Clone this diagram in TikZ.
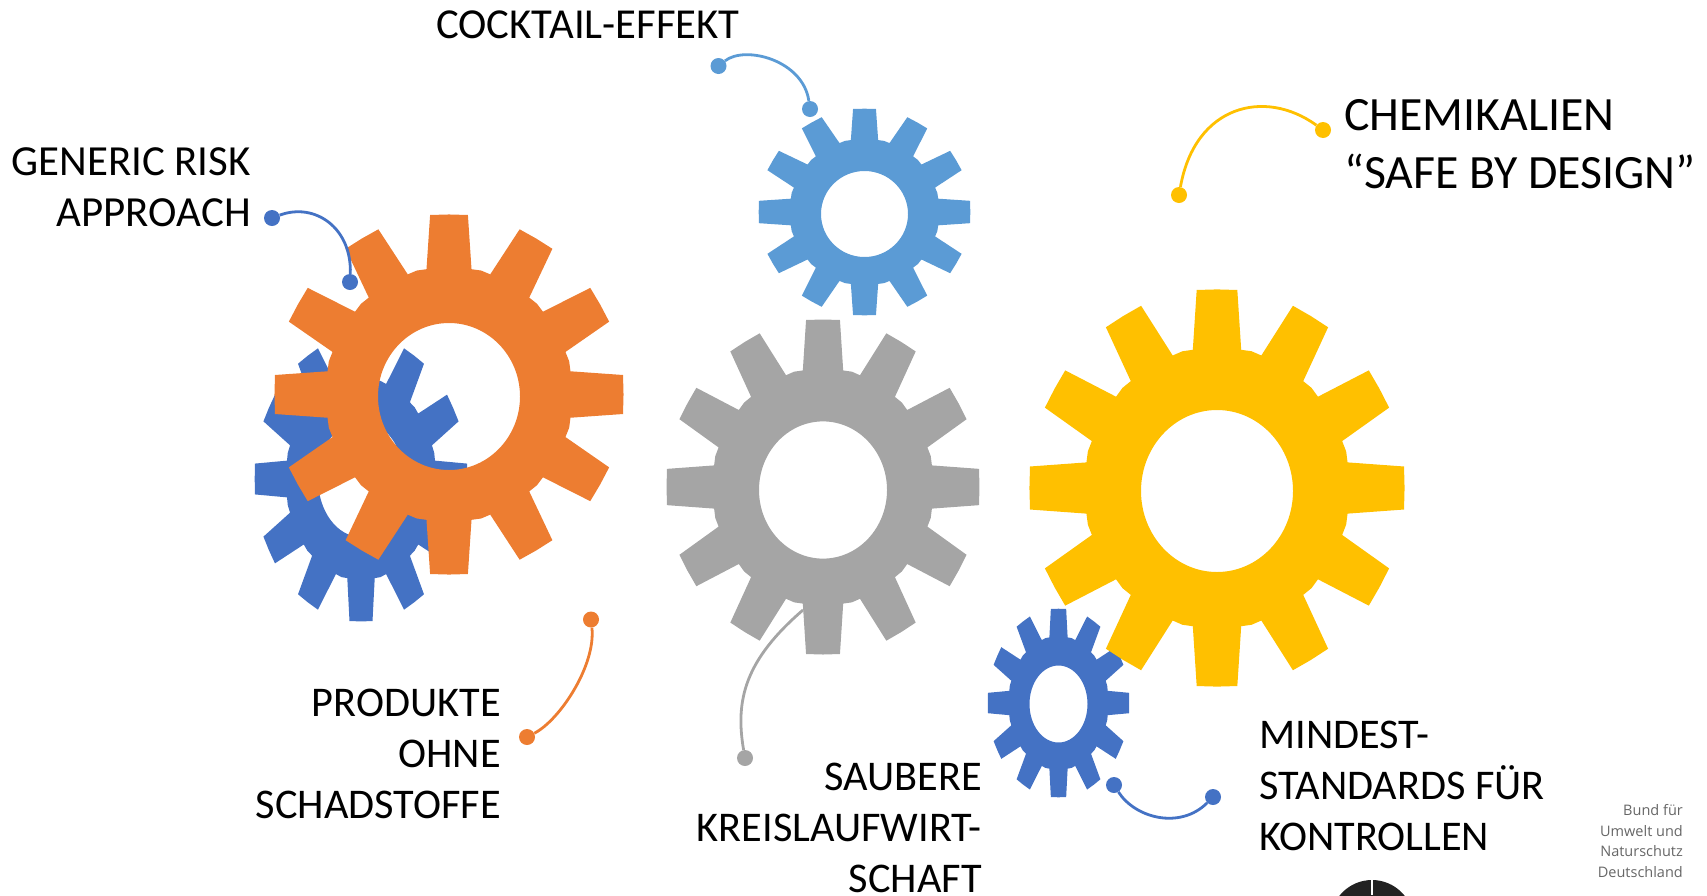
\documentclass[tikz,border=0pt]{standalone}
\usepackage{fontspec}
\setmainfont{Carlito}
\newfontfamily\bundfont{Open Sans}
\definecolor{gorange}{HTML}{ED7D31}
\definecolor{gblue}{HTML}{4472C4}
\definecolor{glight}{HTML}{5B9BD5}
\definecolor{ggray}{HTML}{A5A5A5}
\definecolor{gyellow}{HTML}{FFC000}
\definecolor{gbund}{HTML}{666666}
\definecolor{glogo}{HTML}{222222}
\tikzset{
  lab/.style={font=\fontsize{42.3}{51}\selectfont,text=black,inner sep=0pt,align=right},
  labl/.style={font=\fontsize{42.3}{51}\selectfont,text=black,inner sep=0pt,align=left},
  dotn/.style={circle,fill=#1,minimum size=16pt,inner sep=0pt},
  cable/.style={draw=#1,line width=2.8pt},
}
\newcommand{\gearfill}[8]{%
  \fill[#1,even odd rule]
    \foreach \a [count=\i from 0] in {0,30,...,330}{
      \ifnum\i=0 ({#2+0.71*#4*cos(\a-10.5)},{#3-0.71*#5*sin(\a-10.5)}) \else
      -- ({#2+0.71*#4*cos(\a-10.5)},{#3-0.71*#5*sin(\a-10.5)}) \fi
      -- ({#2+1.006*#4*cos(\a-6.2)},{#3-1.006*#5*sin(\a-6.2)})
      -- ({#2+1.003*#4*cos(\a)},{#3-1.003*#5*sin(\a)})
      -- ({#2+1.006*#4*cos(\a+6.2)},{#3-1.006*#5*sin(\a+6.2)})
      -- ({#2+0.71*#4*cos(\a+10.5)},{#3-0.71*#5*sin(\a+10.5)})
      -- ({#2+0.715*#4*cos(\a+15)},{#3-0.715*#5*sin(\a+15)})
    } -- cycle
    ({#2},{#3+#8}) ellipse [x radius=#6, y radius=#7];
}
\begin{document}
\begin{tikzpicture}[x=1pt,y=-1pt]
\useasboundingbox (0,0) rectangle (1707,895);
\clip (0,0) rectangle (1707,895);
% gears
\gearfill{gblue}{361}{479}{106}{142}{43}{58}{0}
\gearfill{gorange}{449}{394.5}{174}{179.5}{71}{73.5}{2}
\gearfill{glight}{864.5}{212}{105.5}{103}{43.5}{43}{2}
\gearfill{ggray}{823}{487}{156}{167}{64}{68.6}{3}
\gearfill{gblue}{1058.5}{703}{70.5}{94}{29}{38.5}{1}
\gearfill{gyellow}{1217}{488}{187}{198}{76}{81}{3}
% connector ends
\node[dotn=glight] (ca) at (718.5,66) {};
\node[dotn=glight] (cb) at (810,109) {};
\draw[cable=glight] (ca) .. controls (745,45) and (803,60) .. (cb);
\node[dotn=gblue] (ga) at (272,218) {};
\node[dotn=gblue] (gb) at (350,282) {};
\draw[cable=gblue] (ga) .. controls (315,202) and (352,228) .. (gb);
\node[dotn=gyellow] (ya) at (1323,130) {};
\node[dotn=gyellow] (yb) at (1179,195) {};
\draw[cable=gyellow] (ya) .. controls (1265,88) and (1195,105) .. (yb);
\node[dotn=gorange] (oa) at (591,619.5) {};
\node[dotn=gorange] (ob) at (527,737) {};
\draw[cable=gorange] (oa) .. controls (596,665) and (560,720) .. (ob);
\node[dotn=ggray] (ha) at (745,758) {};
\coordinate (hb) at (803,610);
\draw[cable=ggray] (ha) .. controls (735,700) and (745,660) .. (hb);
\node[dotn=gblue] (ba) at (1114,785) {};
\node[dotn=gblue] (bb) at (1213,797) {};
\draw[cable=gblue] (ba) .. controls (1135,818) and (1180,830) .. (bb);
% labels
\node[lab,anchor=center,font=\fontsize{42.7}{51}\selectfont] (t1) at (588,25) {COCKTAIL-EFFEKT};
\node[lab,anchor=east,font=\fontsize{42.9}{51}\selectfont] (t2) at (251,187.5) {GENERIC RISK\\APPROACH};
\node[labl,anchor=west,font=\fontsize{47.8}{58}\selectfont] (t3) at (1344,144) {CHEMIKALIEN\\“SAFE BY DESIGN”};
\node[lab,anchor=east] (t4) at (501,754) {PRODUKTE\\OHNE\\SCHADSTOFFE};
\node[lab,anchor=east] (t5) at (982,828) {SAUBERE\\KREISLAUFWIRT-\\SCHAFT};
\node[labl,anchor=west] (t6) at (1259,786) {MINDEST-\\STANDARDS FÜR\\KONTROLLEN};
\node[anchor=east,inner sep=0pt,align=right,text=gbund,font=\bundfont\fontsize{14.5}{20.5}\selectfont] (t7) at (1683,841) {Bund für\\Umwelt und\\Naturschutz\\Deutschland};
% logo top
\fill[glogo] (1372,921.6) circle [radius=41.6];
\fill[white] (1370.8,875) rectangle (1373.2,895);
\end{tikzpicture}
\end{document}
